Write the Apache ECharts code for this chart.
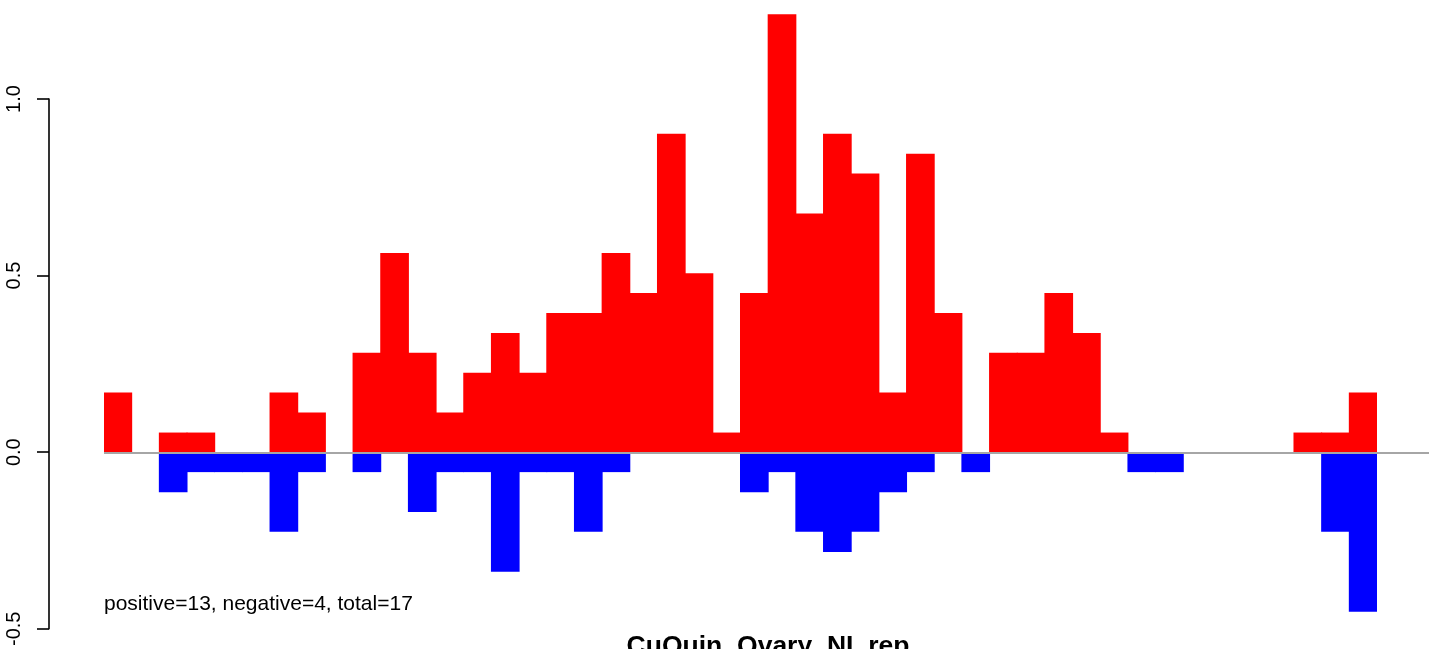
<!DOCTYPE html>
<html>
<head>
<meta charset="utf-8">
<script src="https://cdn.jsdelivr.net/npm/echarts@6/dist/echarts.min.js"></script>
<style>
  html, body { margin: 0; padding: 0; background: #ffffff; }
  #chart { width: 1429px; height: 649px; }
</style>
</head>
<body>
<div id="chart"></div>
<script>
// ---- data ----
const categories = ['1','2','3','4','5','6','7','8','9','10','11','12','13','14','15','16','17','18','19','20','21','22','23','24','25','26','27','28','29','30','31','32','33','34','35','36','37','38','39','40','41','42','43','44','45','46'];
const positiveValues = [0.169,0,0.056,0.056,0,0,0.169,0.113,0,0.282,0.564,0.282,0.113,0.225,0.338,0.225,0.394,0.394,0.564,0.451,0.902,0.507,0.056,0.451,1.240,0.676,0.902,0.789,0.169,0.845,0.394,0,0.282,0.282,0.451,0.338,0.056,0,0,0,0,0,0,0.056,0.056,0.169];
const negativeValues = [0,0,-0.113,-0.056,-0.056,-0.056,-0.225,-0.056,0,-0.056,0,-0.169,-0.056,-0.056,-0.338,-0.056,-0.056,-0.225,-0.056,0,0,0,0,-0.113,-0.056,-0.225,-0.282,-0.225,-0.113,-0.056,0,-0.056,0,0,0,0,0,-0.056,-0.056,0,0,0,0,0,-0.225,-0.451];
const yTickValues = [-0.5, 0.0, 0.5, 1.0];
const annotationText = 'positive=13, negative=4, total=17';
const titleText = 'CuQuin_Ovary_NI_rep';

// ---- layout ----
const FONT = '"Liberation Sans", Arial, Helvetica, sans-serif';
const W = 1429, H = 649;
const axisX = 49;          // y-axis line position
const plotLeft = 104, plotRight = 1377; // first/last bar edges
const yTopTick = 99, yBottomTick = 629; // pixel positions for 1.0 and -0.5
const yMinAxis = yTickValues[0], yMaxAxis = yTickValues[yTickValues.length - 1];
const pxPerUnit = (yBottomTick - yTopTick) / (yMaxAxis - yMinAxis);
const barMax = 1.25;
const grid1Top = yBottomTick - (barMax - yMinAxis) * pxPerUnit;
const N = categories.length;
const bandW = (plotRight - plotLeft) / N;

// zero-height bars are left out (null)
const posData = positiveValues.map(v => (v === 0 ? null : v));
const negData = negativeValues.map(v => (v === 0 ? null : v));

const chart = echarts.init(document.getElementById('chart'), null, { renderer: 'canvas' });

chart.setOption({
  animation: false,
  backgroundColor: '#ffffff',
  grid: [
    { left: plotLeft, top: grid1Top, right: W - plotRight, bottom: H - yBottomTick, containLabel: false },
    { left: axisX, top: yTopTick, width: 10, bottom: H - yBottomTick, containLabel: false },
    { left: plotLeft, top: grid1Top, right: 0, bottom: H - yBottomTick, containLabel: false }
  ],
  xAxis: [
    { type: 'category', gridIndex: 0, data: categories, show: false, boundaryGap: true },
    { type: 'category', gridIndex: 1, data: ['a'], show: false },
    { type: 'category', gridIndex: 2, data: ['a'], show: false }
  ],
  yAxis: [
    { type: 'value', gridIndex: 0, min: yMinAxis, max: barMax, show: false, splitLine: { show: false } },
    {
      type: 'value', gridIndex: 1, min: yMinAxis, max: yMaxAxis, interval: 0.5,
      position: 'left',
      axisLine: { show: true, lineStyle: { color: '#000000', width: 1.6 } },
      axisTick: { show: true, length: 12, lineStyle: { color: '#000000', width: 1.6 } },
      splitLine: { show: false },
      axisLabel: {
        show: true, rotate: 90, margin: 25,
        fontFamily: FONT, fontSize: 20, color: '#000000',
        formatter: function (v) { return v.toFixed(1); }
      }
    },
    { type: 'value', gridIndex: 2, min: yMinAxis, max: barMax, show: false, splitLine: { show: false } }
  ],
  series: [
    {
      type: 'line', xAxisIndex: 2, yAxisIndex: 2, data: [], z: 1, silent: true,
      markLine: {
        silent: true, symbol: 'none', label: { show: false },
        lineStyle: { color: '#a6a6a6', width: 2, type: 'solid' },
        data: [{ yAxis: 0 }]
      }
    },
    {
      name: 'positive', type: 'bar', xAxisIndex: 0, yAxisIndex: 0, data: posData,
      barGap: '-100%', barWidth: bandW + 1, z: 3,
      itemStyle: { color: '#ff0000' }
    },
    {
      name: 'negative', type: 'bar', xAxisIndex: 0, yAxisIndex: 0, data: negData,
      barGap: '-100%', barWidth: bandW + 1, z: 3,
      itemStyle: { color: '#0000ff' }
    }
  ],
  graphic: [
    {
      type: 'text', left: plotLeft, top: 594,
      style: { text: annotationText, fontFamily: FONT, fontSize: 21, fill: '#000000' }
    },
    {
      type: 'text', x: 768, y: 647,
      style: { text: titleText, fontFamily: FONT, fontSize: 26.5, fontWeight: 'bold', fill: '#000000', textAlign: 'center', textVerticalAlign: 'middle' }
    }
  ]
});
</script>
</body>
</html>
